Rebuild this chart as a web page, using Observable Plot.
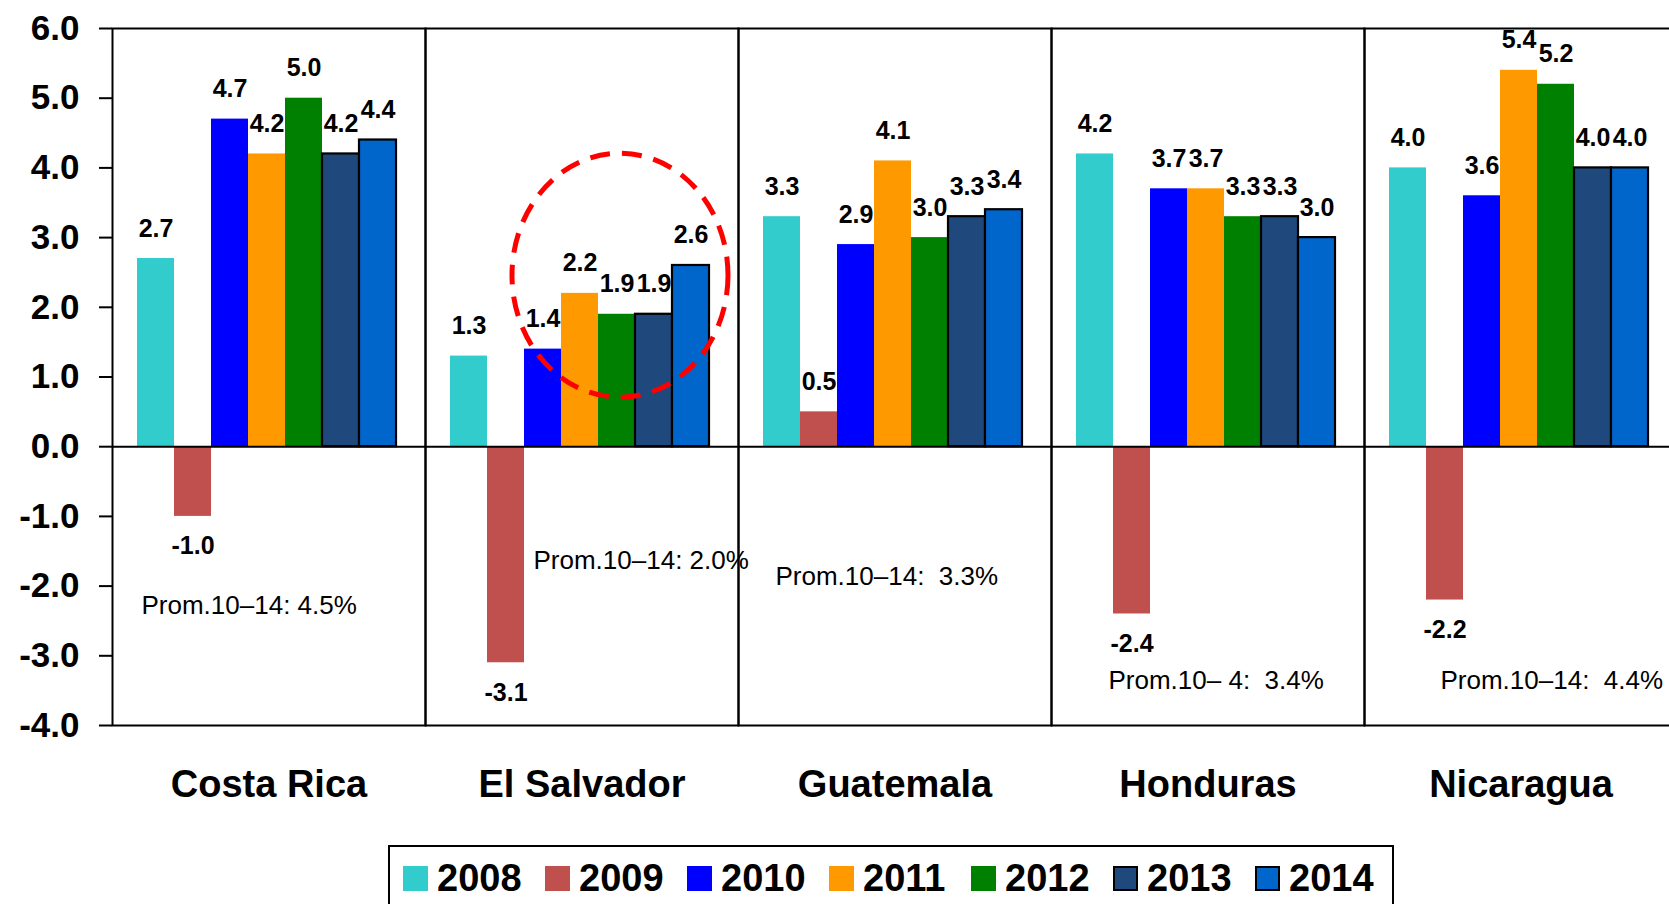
<!DOCTYPE html>
<html>
<head>
<meta charset="utf-8">
<script src="https://cdn.jsdelivr.net/npm/d3@7"></script>
<script src="https://cdn.jsdelivr.net/npm/@observablehq/plot@0.6"></script>
<style>
  html, body { margin: 0; padding: 0; background: #fff; overflow: hidden; }
  #wrap { position: relative; width: 1669px; height: 904px; font-family: "Liberation Sans", Arial, sans-serif; }
  #wrap svg text { white-space: pre; }
  #legend { position: absolute; left: 388px; top: 845px; width: 1002px; height: 90px; border: 2px solid #000; background: #fff; }
  .sw { position: absolute; top: 19px; width: 25px; height: 25px; box-sizing: border-box; }
  .lt { position: absolute; top: 12px; font-size: 38px; line-height: 38px; font-weight: bold; color: #000; }
</style>
</head>
<body>
<div id="wrap"></div>
<script>
// ---- data ----
const countries = ["Costa Rica", "El Salvador", "Guatemala", "Honduras", "Nicaragua"];
const years = ["2008", "2009", "2010", "2011", "2012", "2013", "2014"];
const yearColors = ["#33CCCC", "#C0504D", "#0000FF", "#FF9900", "#008000", "#1F497D", "#0066CC"];
const costaRica  = [2.7, -1.0, 4.7, 4.2, 5.0, 4.2, 4.4];
const elSalvador = [1.3, -3.1, 1.4, 2.2, 1.9, 1.9, 2.6];
const guatemala  = [3.3,  0.5, 2.9, 4.1, 3.0, 3.3, 3.4];
const honduras   = [4.2, -2.4, 3.7, 3.7, 3.3, 3.3, 3.0];
const nicaragua  = [4.0, -2.2, 3.6, 5.4, 5.2, 4.0, 4.0];
const yTicks = [-4, -3, -2, -1, 0, 1, 2, 3, 4, 5, 6];
const promNotes = ["Prom.10–14: 4.5%", "Prom.10–14: 2.0%", "Prom.10–14:  3.3%", "Prom.10– 4:  3.4%", "Prom.10–14:  4.4%"];

// ---- annotation placement (layout, not data) ----
const notePlacement = [
  {dx: 29, y: -2.40},
  {dx: 108, y: -1.76},
  {dx: 37, y: -1.99},
  {dx: 57, y: -3.48},
  {dx: 76, y: -3.48}
];
const highlight = {country: "El Salvador", year: "2012", value: 2.46, dx: 3, rx: 108, ry: 122};

const series = [costaRica, elSalvador, guatemala, honduras, nicaragua];
const rows = countries.flatMap((c, i) => series[i].map((v, j) => ({country: c, year: years[j], value: v})));
const fmt = d => d.toFixed(1);
const FONT = '"Liberation Sans", Arial, sans-serif';

const noteMarks = countries.map((c, i) =>
  Plot.text([{country: c, text: promNotes[i], y: notePlacement[i].y}], {
    fx: "country", y: "y", text: "text", frameAnchor: "left", dx: notePlacement[i].dx,
    textAnchor: "start", lineAnchor: "bottom", fontSize: 26, fill: "#000"
  })
);

const chart = Plot.plot({
  width: 1669,
  height: 845,
  marginLeft: 110,
  marginRight: -9,
  marginTop: 28,
  marginBottom: 120,
  style: {fontFamily: FONT, background: "white", overflow: "visible"},
  fx: {domain: countries, padding: 0, axis: null, label: null},
  x: {domain: years, paddingInner: 0, paddingOuter: 0.727, align: 0.46, axis: null},
  y: {domain: [-4, 6], axis: null},
  color: {domain: years, range: yearColors},
  marks: [
    Plot.barY(rows, {filter: d => +d.year < 2013, fx: "country", x: "year", y: "value", fill: "year"}),
    Plot.barY(rows, {filter: d => +d.year >= 2013, fx: "country", x: "year", y: "value", fill: "year", stroke: "#000", strokeWidth: 2.2}),
    Plot.frame({stroke: "#000", strokeWidth: 2}),
    Plot.ruleY([0], {stroke: "#000", strokeWidth: 2}),
    Plot.text(rows, {filter: d => d.value >= 0, fx: "country", x: "year", y: "value", text: d => fmt(d.value),
      lineAnchor: "bottom", dy: -22, fontSize: 25, fontWeight: "bold", fill: "#000"}),
    Plot.text(rows, {filter: d => d.value < 0, fx: "country", x: "year", y: "value", text: d => fmt(d.value),
      lineAnchor: "top", dy: 20, fontSize: 25, fontWeight: "bold", fill: "#000"}),
    ...noteMarks,
    Plot.dot([highlight], {
      fx: "country", x: "year", y: "value", r: highlight.ry, dx: highlight.dx,
      stroke: "#FF0000", fill: "none",
      render(index, scales, values, dims, ctx, next) {
        const g = next(index, scales, values, dims, ctx);
        const ns = "http://www.w3.org/2000/svg";
        for (const c of Array.from(g.querySelectorAll("circle"))) {
          const e = document.createElementNS(ns, "ellipse");
          e.setAttribute("cx", c.getAttribute("cx"));
          e.setAttribute("cy", c.getAttribute("cy"));
          e.setAttribute("rx", highlight.rx);
          e.setAttribute("ry", highlight.ry);
          e.setAttribute("fill", "none");
          e.setAttribute("stroke", "#FF0000");
          e.setAttribute("stroke-width", 5);
          e.setAttribute("stroke-dasharray", "20 12");
          c.replaceWith(e);
        }
        return g;
      }
    }),
    Plot.axisY({ticks: yTicks, tickSize: 13, tickPadding: 20, tickFormat: fmt, fontSize: 35, fontWeight: "bold",
      strokeWidth: 2, stroke: "#000", fill: "#000", label: null}),
    Plot.axisFx({anchor: "bottom", tickSize: 0, tickPadding: 45, fontSize: 38, fontWeight: "bold", fill: "#000", label: null})
  ]
});

const wrap = document.getElementById("wrap");
wrap.appendChild(chart);

// ---- legend ----
const legend = document.createElement("div");
legend.id = "legend";
years.forEach((y, i) => {
  const sw = document.createElement("div");
  sw.className = "sw";
  sw.style.left = (13 + i * 142) + "px";
  sw.style.background = yearColors[i];
  if (+y >= 2013) sw.style.border = "2px solid #000";
  legend.appendChild(sw);
  const t = document.createElement("div");
  t.className = "lt";
  t.style.left = (47 + i * 142) + "px";
  t.textContent = y;
  legend.appendChild(t);
});
wrap.appendChild(legend);
</script>
</body>
</html>
